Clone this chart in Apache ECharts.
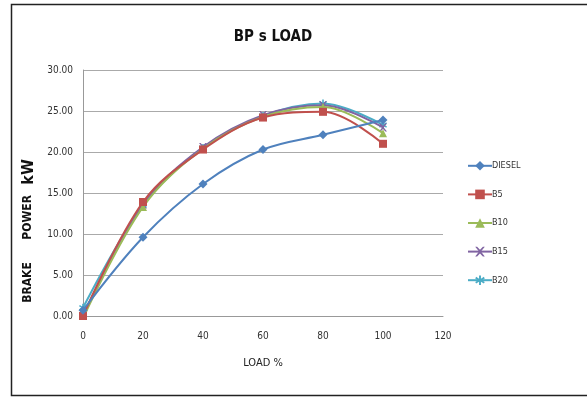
<!DOCTYPE html>
<html><head><meta charset="utf-8">
<script src="https://cdn.jsdelivr.net/npm/echarts@6/dist/echarts.min.js"></script>
<style>html,body{margin:0;padding:0;background:#fff}#c{width:587px;height:402px}</style>
</head><body><div id="c"></div>
<script>
const loads = [0, 20, 40, 60, 80, 100];
const diesel = [0.7, 9.6, 16.1, 20.3, 22.1, 23.9];
const b5 = [0.0, 13.9, 20.3, 24.2, 24.9, 21.0];
const b10 = [-0.3, 13.3, 20.4, 24.3, 25.5, 22.3];
const b15 = [0.0, 13.6, 20.6, 24.5, 25.7, 23.0];
const b20 = [1.0, 13.5, 20.5, 24.4, 25.9, 23.3];
const seriesNames = ['DIESEL', 'B5', 'B10', 'B15', 'B20'];
const seriesData = [diesel, b5, b10, b15, b20];
const colors = ['#4F81BD', '#C0504D', '#9BBB59', '#8064A2', '#4BACC6'];
const symbols = ['diamond', 'rect', 'triangle',
  'path://M0,0 L2,0 L5,3 L8,0 L10,0 L6,5 L10,10 L8,10 L5,7 L2,10 L0,10 L4,5 Z',
  'path://M4,0 L6,0 L6,3.5 L9,1.5 L10,3.2 L7,5 L10,6.8 L9,8.5 L6,6.5 L6,10 L4,10 L4,6.5 L1,8.5 L0,6.8 L3,5 L0,3.2 L1,1.5 L4,3.5 Z'];
const symSizes = [9, 8, 8, 8, 8];

const chart = echarts.init(document.getElementById('c'));
const font = '"DejaVu Sans Condensed", "Liberation Sans Narrow", "Liberation Sans", sans-serif';
chart.setOption({
  animation: false,
  textStyle: { fontFamily: font },
  color: colors,
  graphic: [{
    type: 'rect', shape: { x: 11.5, y: 4.5, width: 600, height: 391 },
    style: { fill: 'none', stroke: '#222', lineWidth: 1.5 }, silent: true
  }],
  title: {
    text: 'BP s LOAD', left: 268, top: 25, textAlign: 'center',
    textStyle: { fontFamily: font, fontWeight: 'bold', fontSize: 15, color: '#111' }
  },
  legend: {
    orient: 'vertical', left: 462, top: 156, itemGap: 19, itemWidth: 24, itemHeight: 12,
    data: seriesNames,
    textStyle: { fontFamily: font, fontSize: 9, color: '#333', padding: [0, 0, 0, -5] }
  },
  grid: { left: 83, right: 144, top: 70, bottom: 86 },
  xAxis: {
    type: 'value', min: 0, max: 120, interval: 20,
    name: 'LOAD %', nameLocation: 'middle', nameGap: 42,
    nameTextStyle: { fontFamily: font, fontSize: 11, color: '#222' },
    axisLine: { show: true, lineStyle: { color: '#999' } },
    axisTick: { show: false },
    splitLine: { show: false },
    axisLabel: { fontSize: 10, color: '#333', margin: 15 }
  },
  yAxis: {
    type: 'value', min: 0, max: 30, interval: 5,
    name: '{a|BRAKE      POWER}   {b|kW}', nameLocation: 'middle', nameGap: 42,
    nameTextStyle: { fontFamily: font, color: '#111', padding: [0, 76, 0, 0],
      rich: { a: { fontSize: 12, fontWeight: 'bold', fontFamily: font, color: '#111' },
              b: { fontSize: 16, fontWeight: 'bold', fontFamily: font, color: '#111' } } },
    axisLine: { show: true, lineStyle: { color: '#999' } },
    axisTick: { show: false },
    splitLine: { lineStyle: { color: '#AAAAAA' } },
    axisLabel: { fontSize: 10, color: '#333', margin: 10, formatter: v => v.toFixed(2) }
  },
  series: seriesNames.map((n, i) => ({
    name: n, type: 'line', smooth: 0.35,
    data: loads.map((x, j) => [x, seriesData[i][j]]),
    symbol: symbols[i], symbolSize: symSizes[i],
    lineStyle: { width: 2, color: colors[i] },
    itemStyle: { color: colors[i] },
    z: 10 - i
  }))
});
</script></body></html>
